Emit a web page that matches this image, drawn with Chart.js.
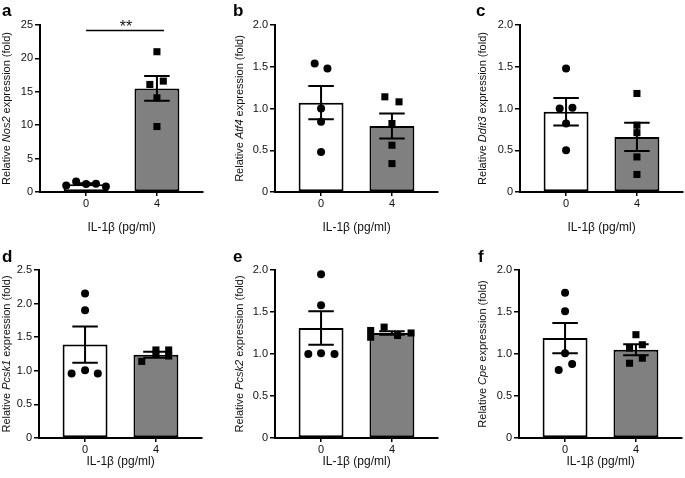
<!DOCTYPE html>
<html>
<head>
<meta charset="utf-8">
<script src="https://cdn.jsdelivr.net/npm/chart.js@4.4.1/dist/chart.umd.min.js"></script>
<style>
  body { margin: 0; background: #fff; width: 685px; height: 478px; position: relative; overflow: hidden; }
  canvas { position: absolute; }
</style>
</head>
<body>
<script>
// x categories: IL-1β dose (pg/ml)
const xGroups = ['0', '4'];
const xTitle = 'IL-1β (pg/ml)';

// y tick labels
const ticksNos2 = ['0', '5', '10', '15', '20', '25'];
const ticksFold = ['0', '0.5', '1.0', '1.5', '2.0'];
const ticksFoldHigh = ['0', '0.5', '1.0', '1.5', '2.0', '2.5'];

// a - Nos2
const nos2Ctrl = [0.99, 1.58, 1.20, 1.24, 0.84];
const nos2Il1b = [21.0, 16.1, 16.6, 14.1, 9.8];
const nos2Mean = [1.17, 15.5];
const nos2Sem = [0.13, 1.85];
const nos2SpreadCtrl = [-0.28, -0.14, 0, 0.14, 0.28];
const nos2SpreadIl1b = [0, -0.1, 0.09, 0, 0];

// b - Atf4
const atf4Ctrl = [1.54, 1.48, 1.00, 0.84, 0.48];
const atf4Il1b = [1.14, 1.08, 0.82, 0.56, 0.34];
const atf4Mean = [1.07, 0.79];
const atf4Sem = [0.20, 0.15];
const atf4SpreadCtrl = [-0.09, 0.09, 0, 0, 0];
const atf4SpreadIl1b = [-0.1, 0.1, 0, 0, 0];

// c - Ddit3
const ddit3Ctrl = [1.48, 1.00, 1.01, 0.82, 0.50];
const ddit3Il1b = [1.18, 0.80, 0.71, 0.42, 0.21];
const ddit3Mean = [0.96, 0.66];
const ddit3Sem = [0.165, 0.17];
const ddit3SpreadCtrl = [0, -0.09, 0.09, 0, 0];
const ddit3SpreadIl1b = [0, 0, 0, 0, 0];

// d - Pcsk1
const pcsk1Ctrl = [2.15, 1.90, 0.96, 1.01, 0.96];
const pcsk1Il1b = [1.14, 1.31, 1.25, 1.31, 1.22];
const pcsk1Mean = [1.39, 1.24];
const pcsk1Sem = [0.27, 0.045];
const pcsk1SpreadCtrl = [0, 0, -0.19, 0, 0.18];
const pcsk1SpreadIl1b = [-0.2, 0, 0, 0.18, 0.18];

// e - Pcsk2
const pcsk2Ctrl = [1.95, 1.58, 1.00, 1.01, 1.00];
const pcsk2Il1b = [1.28, 1.20, 1.32, 1.22, 1.25];
const pcsk2Mean = [1.31, 1.25];
const pcsk2Sem = [0.20, 0.02];
const pcsk2SpreadCtrl = [0, 0, -0.18, 0, 0.19];
const pcsk2SpreadIl1b = [-0.3, -0.3, -0.11, 0.08, 0.27];

// f - Cpe
const cpeCtrl = [1.73, 1.51, 1.01, 0.88, 0.81];
const cpeIl1b = [1.23, 1.11, 1.07, 0.95, 0.89];
const cpeMean = [1.19, 1.05];
const cpeSem = [0.18, 0.065];
const cpeSpreadCtrl = [0, 0, 0, 0.1, -0.09];
const cpeSpreadIl1b = [0, 0.09, -0.09, 0.09, -0.09];

const FONT = '"Liberation Sans", Arial, Helvetica, sans-serif';
const TEXT = '#111';

const panels = [
  { letter: 'a', gene: 'Nos2', ticks: ticksNos2, ctrl: nos2Ctrl, il1b: nos2Il1b, mean: nos2Mean, sem: nos2Sem,
    spreadCtrl: nos2SpreadCtrl, spreadIl1b: nos2SpreadIl1b, left: -5, top: 0, row: 0, letterX: 7, titleX: 12,
    sig: { from: 0, to: 1.1, y: 24.3, text: '**' } },
  { letter: 'b', gene: 'Atf4', ticks: ticksFold, ctrl: atf4Ctrl, il1b: atf4Il1b, mean: atf4Mean, sem: atf4Sem,
    spreadCtrl: atf4SpreadCtrl, spreadIl1b: atf4SpreadIl1b, left: 230, top: 0, row: 0, letterX: 3, titleX: 10 },
  { letter: 'c', gene: 'Ddit3', ticks: ticksFold, ctrl: ddit3Ctrl, il1b: ddit3Il1b, mean: ddit3Mean, sem: ddit3Sem,
    spreadCtrl: ddit3SpreadCtrl, spreadIl1b: ddit3SpreadIl1b, left: 475, top: 0, row: 0, letterX: 1, titleX: 8 },
  { letter: 'd', gene: 'Pcsk1', ticks: ticksFoldHigh, ctrl: pcsk1Ctrl, il1b: pcsk1Il1b, mean: pcsk1Mean, sem: pcsk1Sem,
    spreadCtrl: pcsk1SpreadCtrl, spreadIl1b: pcsk1SpreadIl1b, left: -6, top: 238, row: 1, letterX: 8, titleX: 12.5 },
  { letter: 'e', gene: 'Pcsk2', ticks: ticksFold, ctrl: pcsk2Ctrl, il1b: pcsk2Il1b, mean: pcsk2Mean, sem: pcsk2Sem,
    spreadCtrl: pcsk2SpreadCtrl, spreadIl1b: pcsk2SpreadIl1b, left: 230, top: 238, row: 1, letterX: 3, titleX: 9.7 },
  { letter: 'f', gene: 'Cpe', ticks: ticksFold, ctrl: cpeCtrl, il1b: cpeIl1b, mean: cpeMean, sem: cpeSem,
    spreadCtrl: cpeSpreadCtrl, spreadIl1b: cpeSpreadIl1b, left: 474, top: 238, row: 1, letterX: 4, titleX: 8.7 }
];

// per-row layout
const rows = [
  { height: 238, padTop: 25, axisH: 46, titlePad: 3, letterY: 16 },
  { height: 240, padTop: 32, axisH: 40, titlePad: 9, letterY: 23.5 }
];

function decorations(p) {
  return {
    id: 'decorations',
    afterDatasetsDraw(chart) {
      const ctx = chart.ctx;
      const xs = chart.scales.x, ys = chart.scales.y;
      const area = chart.chartArea;
      ctx.save();

      // SEM error bars
      ctx.strokeStyle = '#000';
      ctx.lineWidth = 2;
      p.mean.forEach((m, i) => {
        const x = xs.getPixelForValue(i);
        const c0 = xs.getPixelForValue(i - 0.18), c1 = xs.getPixelForValue(i + 0.18);
        const top = ys.getPixelForValue(m + p.sem[i]);
        const bot = ys.getPixelForValue(m - p.sem[i]);
        ctx.beginPath();
        ctx.moveTo(x, top); ctx.lineTo(x, bot);
        ctx.moveTo(c0, top); ctx.lineTo(c1, top);
        ctx.moveTo(c0, bot); ctx.lineTo(c1, bot);
        ctx.stroke();
      });

      // significance bar
      if (p.sig) {
        const y = Math.round(ys.getPixelForValue(p.sig.y)) + 0.5;
        const x0 = xs.getPixelForValue(p.sig.from), x1 = xs.getPixelForValue(p.sig.to);
        ctx.lineWidth = 1.5;
        ctx.beginPath();
        ctx.moveTo(x0, y); ctx.lineTo(x1, y);
        ctx.stroke();
        ctx.fillStyle = TEXT;
        ctx.font = '16px ' + FONT;
        ctx.textAlign = 'center';
        ctx.textBaseline = 'alphabetic';
        ctx.fillText(p.sig.text, (x0 + x1) / 2 + 1, y + 1);
      }

      // panel letter
      ctx.fillStyle = '#000';
      ctx.font = 'bold 17px ' + FONT;
      ctx.textAlign = 'left';
      ctx.textBaseline = 'alphabetic';
      ctx.fillText(p.letter, p.letterX, rows[p.row].letterY);

      // y title with italic gene name
      const normal = '11px ' + FONT;
      const italic = 'italic 11px ' + FONT;
      const parts = [['Relative ', normal], [p.gene, italic], [' expression (fold)', normal]];
      let total = 0;
      parts.forEach(pt => { ctx.font = pt[1]; total += ctx.measureText(pt[0]).width; });
      ctx.translate(p.titleX, (area.top + area.bottom) / 2);
      ctx.rotate(-Math.PI / 2);
      ctx.fillStyle = TEXT;
      ctx.textBaseline = 'middle';
      let x = -total / 2;
      parts.forEach(pt => {
        ctx.font = pt[1];
        ctx.fillText(pt[0], x, 0);
        x += ctx.measureText(pt[0]).width;
      });
      ctx.restore();
    }
  };
}

function makePanel(p) {
  const row = rows[p.row];
  const canvas = document.createElement('canvas');
  canvas.width = 230;
  canvas.height = row.height;
  canvas.style.left = p.left + 'px';
  canvas.style.top = p.top + 'px';
  document.body.appendChild(canvas);

  const axisGrid = { display: true, drawOnChartArea: false, drawTicks: true, color: '#000', lineWidth: 1.5, offset: false };
  const axisBorder = { display: true, color: '#000', width: 2 };

  new Chart(canvas, {
    type: 'bar',
    data: {
      datasets: [
        {
          type: 'bar',
          data: p.mean.map((m, i) => ({ x: i, y: m })),
          backgroundColor: ['#ffffff', '#808080'],
          borderColor: '#000',
          borderWidth: 2,
          borderSkipped: false,
          categoryPercentage: 1,
          barPercentage: 0.634,
          order: 3
        },
        {
          type: 'scatter',
          data: p.ctrl.map((v, k) => ({ x: 0 + p.spreadCtrl[k], y: v })),
          pointStyle: 'circle',
          pointRadius: 4,
          backgroundColor: '#000',
          borderColor: '#000',
          borderWidth: 0,
          order: 1
        },
        {
          type: 'scatter',
          data: p.il1b.map((v, k) => ({ x: 1 + p.spreadIl1b[k], y: v })),
          pointStyle: 'rect',
          pointRadius: 5,
          backgroundColor: '#000',
          borderColor: '#000',
          borderWidth: 0,
          order: 1
        }
      ]
    },
    options: {
      responsive: false,
      animation: false,
      events: [],
      layout: { padding: { left: 0, right: 22, top: row.padTop, bottom: 0 } },
      plugins: { legend: { display: false }, tooltip: { enabled: false } },
      scales: {
        x: {
          type: 'linear',
          min: -0.65,
          max: 1.65,
          offset: false,
          afterBuildTicks: s => { s.ticks = xGroups.map((g, i) => ({ value: i })); },
          afterFit: s => { s.height = row.axisH; },
          ticks: { callback: (v, i) => xGroups[i], color: TEXT, font: { family: FONT, size: 11 }, padding: 1, maxRotation: 0, autoSkip: false },
          grid: Object.assign({ tickLength: 4 }, axisGrid),
          border: axisBorder,
          title: { display: true, text: xTitle, color: TEXT, font: { family: FONT, size: 12 }, padding: { top: 0, bottom: row.titlePad } }
        },
        y: {
          type: 'linear',
          min: 0,
          max: parseFloat(p.ticks[p.ticks.length - 1]),
          afterBuildTicks: s => { s.ticks = p.ticks.map(t => ({ value: parseFloat(t) })); },
          afterFit: s => { s.width = 45; },
          ticks: { callback: (v, i) => p.ticks[i], color: TEXT, font: { family: FONT, size: 11 }, padding: 2 },
          grid: Object.assign({ tickLength: 5 }, axisGrid),
          border: axisBorder
        }
      }
    },
    plugins: [decorations(p)]
  });
}

panels.forEach(makePanel);
</script>
</body>
</html>
